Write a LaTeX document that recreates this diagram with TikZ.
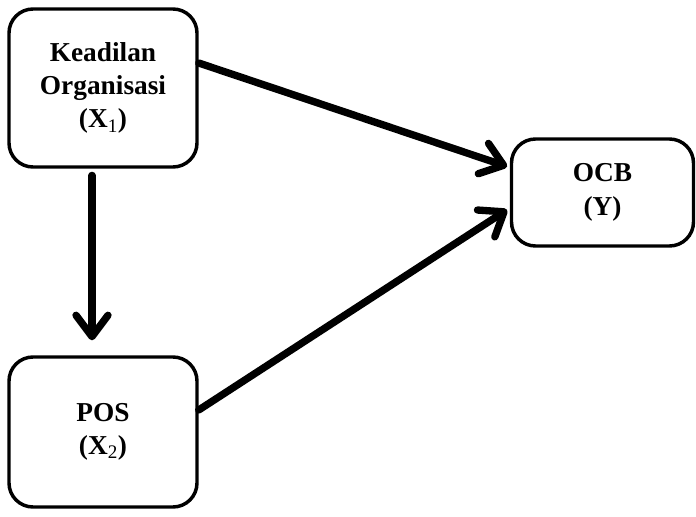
\documentclass[tikz,border=0pt]{standalone}
\usepackage{fontspec}
\setmainfont{Liberation Serif}
\usetikzlibrary{arrows.meta}
\begin{document}
\begin{tikzpicture}[x=0.75pt,y=-0.75pt,
  box/.style={draw=black, line width=2.6pt, rounded corners=18pt, fill=white,
    align=center, inner sep=0pt, font=\fontsize{20.5}{25}\selectfont\bfseries},
  arr/.style={line width=5.5pt, line cap=round,
    -{Straight Barb[length=16pt, width=24pt, round]}}]
\useasboundingbox (0,0) rectangle (696,517);
\node[box, minimum width=141pt, minimum height=118.5pt] (x1) at (103,88)
  {Keadilan\\Organisasi\\(X\textsubscript{\mdseries 1})};
\node[box, minimum width=136.5pt, minimum height=80.25pt,
  font=\fontsize{20.5}{26}\selectfont\bfseries] (ocb) at (602.5,192.5)
  {OCB\\(Y)};
\node[box, minimum width=141pt, minimum height=112.5pt] (pos) at (103,432)
  {POS\\(X\textsubscript{\mdseries 2})};
\draw[arr] ([yshift=18.75pt]x1.east) -- ([xshift=-2pt,yshift=19.5pt]ocb.west);
\draw[arr] ([yshift=16.5pt]pos.east) -- ([xshift=-2pt,yshift=-13pt]ocb.west);
\draw[arr] ([xshift=-8.25pt,yshift=-5pt]x1.south) -- ([xshift=-8.25pt,yshift=11.25pt]pos.north);
\end{tikzpicture}
\end{document}
